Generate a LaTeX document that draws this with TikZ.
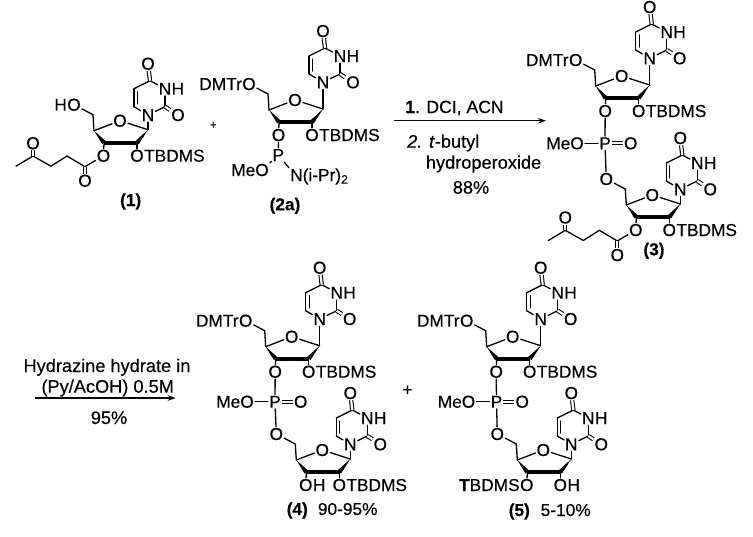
\documentclass[tikz,border=0pt]{standalone}
\usepackage{fontspec}
\setmainfont{Liberation Sans}[FakeBold=0.35]
\usetikzlibrary{arrows.meta,calc,positioning}
\tikzset{
  atom/.style={inner sep=1pt,text height=12pt,text depth=0pt,font=\fontsize{17.3}{19}\selectfont},
  rxn/.style={inner sep=0pt,text height=12pt,text depth=0pt,font=\fontsize{18.2}{20}\selectfont},
  bond/.style={line width=1.3pt,line cap=round},
  dbl/.style={double,double distance=2.2pt,line width=1.05pt},
  ar/.style={line width=1.4pt,-{Stealth[length=8pt,width=5.5pt]}}
}
\newcommand{\wedgebond}[2]{\fill (#1) -- ($(#2)!2.3pt!90:(#1)$) -- ($(#2)!2.3pt!-90:(#1)$) -- cycle;}
\newcommand{\nucleo}[4]{
  \begin{scope}[shift={(#2,#3)}]
    \node[atom] (#1ro) at (0,0) {O};
    \coordinate (#1c1) at (28,9);
    \coordinate (#1c2) at (17,22);
    \coordinate (#1c3) at (-16,22);
    \coordinate (#1c4) at (-26,10);
    \coordinate (#1c5) at (-27,-6);
    \node[atom] (#1o5) at (-46,-16) {O};
    \node[atom] (#1o3) at (-16.5,35) {O};
    \node[atom] (#1o2) at (17,35) {O};
    \node[atom] (#1n1) at (28,-17.7+#4) {N};
    \coordinate (#1c6) at (14,-26+#4);
    \coordinate (#1c5b) at (14,-44+#4);
    \coordinate (#1c4b) at (30,-52+#4);
    \node[atom] (#1n3) at (45,-44+#4) {N};
    \node[atom,right=-2pt of #1n3] (#1h3) {H};
    \coordinate (#1c2b) at (45,-26+#4);
    \node[atom] (#1o4) at (28,-69+#4) {O};
    \node[atom] (#1o6) at (58,-17.7+#4) {O};
    \draw[bond] (#1c4) -- (#1ro);
    \draw[bond] (#1ro) -- (#1c1);
    \draw[bond] (#1c4) -- (#1c5);
    \draw[bond] (#1c5) -- (#1o5);
    \draw[bond] (#1c3) -- (#1o3);
    \draw[bond] (#1c2) -- (#1o2);
    \draw[bond] (#1c1) -- (#1n1);
    \draw[bond] (#1n1) -- (#1c6);
    \draw[bond] (#1c6) -- (#1c5b);
    \draw[bond] ($(#1c6)+(3.5,-3)$) -- ($(#1c5b)+(3.5,3)$);
    \draw[bond] (#1c5b) -- (#1c4b);
    \draw[bond] (#1c4b) -- (#1n3);
    \draw[bond] (#1n3) -- (#1c2b);
    \draw[bond] (#1c2b) -- (#1n1);
    \draw[dbl] (#1c4b) -- (#1o4);
    \draw[dbl] (#1c2b) -- (#1o6);
    \wedgebond{#1c4}{#1c3}
    \wedgebond{#1c1}{#1c2}
    \draw[line width=3.8pt] (#1c3) -- (#1c2);
  \end{scope}
}
\newcommand{\levchain}[3]{
  \begin{scope}[shift={(#2,#3)}]
    \coordinate (#1l1) at (-35,46);
    \node[atom] (#1l2) at (-35,60) {O};
    \coordinate (#1l3) at (-53,35.3);
    \coordinate (#1l4) at (-69,45.5);
    \coordinate (#1l5) at (-87,35.3);
    \node[atom] (#1l6) at (-87,22.5) {O};
    \coordinate (#1l7) at (-104,45.5);
    \draw[bond] (#1o3) -- (#1l1) -- (#1l3) -- (#1l4) -- (#1l5) -- (#1l7);
    \draw[dbl] (#1l1) -- (#1l2);
    \draw[dbl] (#1l5) -- (#1l6);
  \end{scope}
}
\newcommand{\phoslink}[5]{
  \node[atom] (#1p) at (#2,#3) {P};
  \node[atom] (#1m) at ($(#1p)+(-40,0)$) {MeO};
  \node[atom] (#1e) at ($(#1p)+(25.7,0)$) {O};
  \draw[bond] (#1m) -- (#1p);
  \draw[dbl] (#1p) -- (#1e);
  \draw[bond] (#4o3) -- (#1p);
  \draw[bond] (#1p) -- (#5o5);
}
\begin{document}
\begin{tikzpicture}[x=1pt,y=-1pt]
  \useasboundingbox (0,0) rectangle (753,536);

  \nucleo{a}{120}{120.7}{12}
  \node[atom,left=-2pt of ao5] (ah5) {H};
  \node[atom,right=-2pt of ao2] (at2) {TBDMS};
  \levchain{a}{120}{120.7}
  \node[atom] (alb) at (130.7,200) {\textbf{(1)}};
  \node[atom,font=\fontsize{11}{12}\selectfont,text height=7pt] (plusa) at (213.3,125) {+};

  \nucleo{b}{295}{100}{0}
  \node[atom,left=-2pt of bo5] (bd5) {DMTr};
  \node[atom,right=-2pt of bo2] (bt2) {TBDMS};
  \node[atom] (bp) at (278.3,155) {P};
  \node[atom] (bm) at (250,170) {MeO};
  \node[atom,anchor=west] (bn) at (289,175) {N(i-Pr)\textsubscript{2}};
  \draw[bond] (bo3) -- (bp);
  \draw[bond] (bp) -- (bm.north east);
  \draw[bond] (bp) -- (bn.north west);
  \node[atom] (blb) at (285,204.3) {\textbf{(2a)}};

  \node[rxn,anchor=west,font=\fontsize{17.6}{20}\selectfont] (ra1) at (405,107) {\textbf{1}. DCI, ACN};
  \node[rxn,anchor=west] (ra2) at (407,141.7) {\textit{2. t}-butyl};
  \node[rxn,anchor=west] (ra3) at (425.7,162.7) {hydroperoxide};
  \node[rxn] (ra4) at (471,187.7) {88\%};
  \coordinate (ras) at (394,120.7);
  \coordinate (rae) at (546,120.7);
  \draw[ar] (ras) -- (rae);

  \nucleo{c}{621.7}{76}{0}
  \node[atom,left=-2pt of co5] (cd5) {DMTr};
  \node[atom,right=-2pt of co2] (ct2) {TBDMS};
  \nucleo{d}{652.3}{195}{12}
  \node[atom,right=-2pt of do2] (dt2) {TBDMS};
  \levchain{d}{652.3}{195}
  \phoslink{e}{605}{143.3}{c}{d}
  \node[atom] (dlb) at (654,249.3) {\textbf{(3)}};

  \node[rxn] (rb1) at (107,366) {Hydrazine hydrate in};
  \node[rxn] (rb2) at (107.7,386.7) {(Py/AcOH) 0.5M};
  \node[rxn] (rb3) at (109,418) {95\%};
  \coordinate (rbs) at (35,398);
  \coordinate (rbe) at (175.7,398);
  \draw[ar] (rbs) -- (rbe);

  \nucleo{f}{291.7}{336.7}{0}
  \node[atom,left=-2pt of fo5] (fd5) {DMTr};
  \node[atom,right=-2pt of fo2] (ft2) {TBDMS};
  \nucleo{g}{322.3}{450}{12}
  \node[atom,right=-2pt of go3] (gh3) {H};
  \node[atom,right=-2pt of go2] (gt2) {TBDMS};
  \phoslink{h}{275}{401.7}{f}{g}
  \node[atom] (glb) at (297.3,509) {\textbf{(4)}};
  \node[atom] (gyd) at (347.7,509) {90-95\%};
  \node[atom] (plusb) at (407.5,389.5) {+};

  \nucleo{i}{512.7}{336.7}{0}
  \node[atom,left=-2pt of io5] (id5) {DMTr};
  \node[atom,right=-2pt of io2] (it2) {TBDMS};
  \nucleo{j}{543.3}{450}{12}
  \node[atom,left=-2pt of jo3] (jt3) {\textbf{T}BDMS};
  \node[atom,right=-2pt of jo2] (jh2) {H};
  \phoslink{k}{496.5}{401.7}{i}{j}
  \node[atom] (jlb) at (519.3,510) {\textbf{(5)}};
  \node[atom] (jyd) at (565.7,510) {5-10\%};
\end{tikzpicture}
\end{document}
